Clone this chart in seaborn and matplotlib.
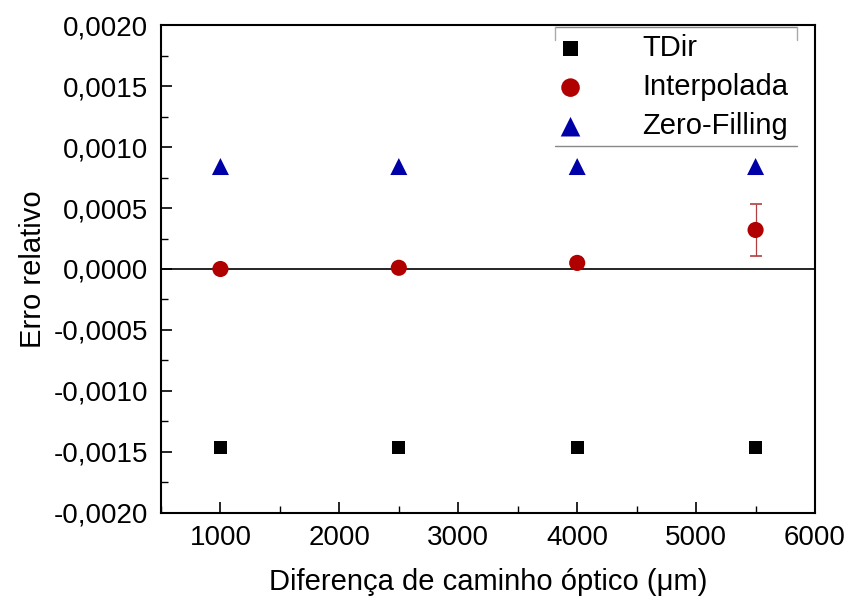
import matplotlib
matplotlib.use('Agg')
import matplotlib.pyplot as plt
import seaborn as sns
import pandas as pd
from matplotlib.ticker import FuncFormatter, MultipleLocator

# dados
caminho = [1000, 2500, 4000, 5500]
erro_tdir = [-0.00146, -0.00146, -0.00146, -0.00146]
erro_interp = [0.0, 0.00001, 0.00005, 0.00032]
desvio_interp = [0.0, 0.0, 0.0, 0.00021]
erro_zero = [0.00084, 0.00084, 0.00084, 0.00084]

sns.set_theme(style="white")
plt.rcParams['font.family'] = ['Liberation Sans', 'DejaVu Sans']

df = pd.DataFrame({
    "x": caminho * 3,
    "y": erro_tdir + erro_interp + erro_zero,
    "serie": ["TDir"] * 4 + ["Interpolada"] * 4 + ["Zero-Filling"] * 4,
})

fig = plt.figure(figsize=(8.49, 6.03), dpi=100)
ax = fig.add_axes([0.1896, 0.1493, 0.7704, 0.8092])

ax.axhline(0, color="black", linewidth=1.2, zorder=1)
barras = ax.errorbar(caminho, erro_interp, yerr=desvio_interp, fmt="none",
                     ecolor="#b04040", elinewidth=0.9, capsize=4, capthick=1.2, zorder=2)
for cap in barras[1]:
    cap.set_color("#555555")

cores = {"TDir": "black", "Interpolada": "#b00000", "Zero-Filling": "#0000a8"}
marcadores = {"TDir": "s", "Interpolada": "o", "Zero-Filling": "^"}
tamanhos = {"TDir": 90, "Interpolada": 135, "Zero-Filling": 150}
for nome in ["TDir", "Interpolada", "Zero-Filling"]:
    sub = df[df["serie"] == nome]
    sns.scatterplot(data=sub, x="x", y="y", ax=ax, color=cores[nome],
                    marker=marcadores[nome], s=tamanhos[nome],
                    edgecolor="none", label=nome, zorder=3)

ax.set_xlim(500, 6000)
ax.set_ylim(-0.002, 0.002)
ax.xaxis.set_major_locator(MultipleLocator(1000))
ax.xaxis.set_minor_locator(MultipleLocator(500))
ax.yaxis.set_major_locator(MultipleLocator(0.0005))
ax.yaxis.set_minor_locator(MultipleLocator(0.00025))
ax.yaxis.set_major_formatter(FuncFormatter(lambda v, p: f"{v:.4f}".replace(".", ",").replace("-0,0000", "0,0000")))

ax.tick_params(which="both", direction="in", bottom=True, left=True, top=False, right=False,
               labelsize=20, colors="black")
ax.tick_params(which="major", length=8, width=1.2)
ax.tick_params(which="minor", length=5, width=1.0)
ax.tick_params(axis="x", pad=9)
ax.tick_params(axis="y", pad=9)
for s in ax.spines.values():
    s.set_color("black")
    s.set_linewidth(1.5)

ax.set_xlabel("Diferença de caminho óptico (μm)", fontsize=21, labelpad=12, color="black")
ax.set_ylabel("Erro relativo", fontsize=21, labelpad=5, color="black")

handles, labels = ax.get_legend_handles_labels()
leg = ax.legend(handles, labels, loc="upper right", bbox_to_anchor=(1.001, 1.038), frameon=False,
                fontsize=21, handletextpad=1.45, labelspacing=0.38, borderpad=0.45,
                markerscale=1.15, labelcolor="black")

# moldura parcial da legenda (como no original)
ax.plot([0.602, 0.972], [0.995, 0.995], transform=ax.transAxes, color="#888888", lw=1.0, clip_on=False)
ax.plot([0.602, 0.602], [0.995, 0.97], transform=ax.transAxes, color="#aaaaaa", lw=1.0)
ax.plot([0.972, 0.972], [0.995, 0.97], transform=ax.transAxes, color="#aaaaaa", lw=1.0)
ax.plot([0.602, 0.972], [0.753, 0.753], transform=ax.transAxes, color="#888888", lw=1.0)

fig.savefig("out.png", dpi=100)
plt.close()
